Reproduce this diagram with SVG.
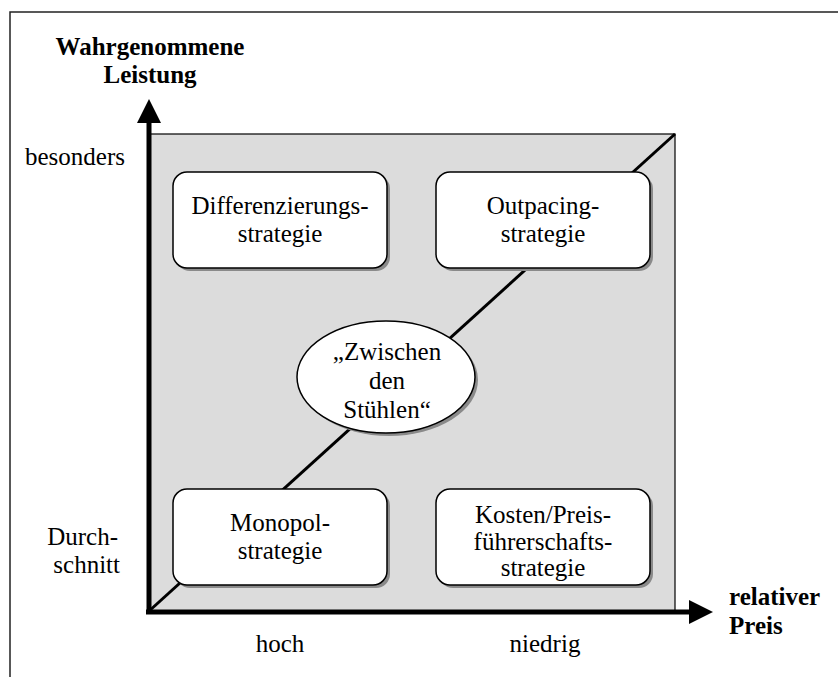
<svg xmlns="http://www.w3.org/2000/svg" width="838" height="677" viewBox="0 0 838 677">
  <style>
    text { font-family: "Liberation Serif", "Times New Roman", serif; fill: #000; }
    .lbl { font-size: 25px; }
    .ax { font-size: 25px; font-weight: bold; }
    .node { font-size: 25px; text-anchor: middle; }
    .box { fill: #fff; stroke: #000; stroke-width: 1.5; }
    .shadow { fill: #8a8a8a; }
  </style>
  <defs>
    <marker id="arrow" viewBox="0 0 24 24" refX="0" refY="12" markerWidth="24" markerHeight="24" markerUnits="userSpaceOnUse" orient="auto">
      <path d="M0,0 L24,12 L0,24 Z" fill="#000"/>
    </marker>
  </defs>

  <rect x="0" y="0" width="838" height="677" fill="#fff"/>
  <!-- outer frame -->
  <rect x="10" y="12" width="840" height="700" fill="none" stroke="#222" stroke-width="1.5"/>

  <!-- strategy field -->
  <rect id="field" x="148" y="134" width="527" height="478" fill="#dcdcdc" stroke="#000" stroke-width="1.2"/>

  <g id="connectors">
    <line x1="148" y1="612" x2="675" y2="134" stroke="#000" stroke-width="3"/>
    <line x1="149" y1="614" x2="149" y2="123" stroke="#000" stroke-width="5" marker-end="url(#arrow)"/>
    <line x1="146" y1="612" x2="689" y2="612" stroke="#000" stroke-width="5" marker-end="url(#arrow)"/>
  </g>

  <g id="differenzierung">
    <rect class="shadow" x="176" y="175" width="214" height="96" rx="14"/>
    <rect class="box" x="173" y="172" width="214" height="96" rx="14"/>
    <text class="node" x="280" y="214">Differenzierungs-</text>
    <text class="node" x="280" y="242">strategie</text>
  </g>

  <g id="outpacing">
    <rect class="shadow" x="439" y="175" width="214" height="96" rx="14"/>
    <rect class="box" x="436" y="172" width="214" height="96" rx="14"/>
    <text class="node" x="543" y="214">Outpacing-</text>
    <text class="node" x="543" y="242">strategie</text>
  </g>

  <g id="zwischen">
    <ellipse class="shadow" cx="389" cy="380" rx="89" ry="56"/>
    <ellipse class="box" cx="386" cy="377" rx="89" ry="56"/>
    <text class="node" x="387" y="360">„Zwischen</text>
    <text class="node" x="387" y="389">den</text>
    <text class="node" x="387" y="418">Stühlen“</text>
  </g>

  <g id="monopol">
    <rect class="shadow" x="176" y="492" width="214" height="96" rx="14"/>
    <rect class="box" x="173" y="489" width="214" height="96" rx="14"/>
    <text class="node" x="280" y="531">Monopol-</text>
    <text class="node" x="280" y="559">strategie</text>
  </g>

  <g id="kosten">
    <rect class="shadow" x="439" y="492" width="214" height="96" rx="14"/>
    <rect class="box" x="436" y="489" width="214" height="96" rx="14"/>
    <text class="node" x="543" y="523">Kosten/Preis-</text>
    <text class="node" x="543" y="550">führerschafts-</text>
    <text class="node" x="543" y="576">strategie</text>
  </g>

  <!-- axis titles and scale labels -->
  <text class="ax" x="150" y="55" text-anchor="middle">Wahrgenommene</text>
  <text class="ax" x="150" y="83" text-anchor="middle">Leistung</text>
  <text class="lbl" x="25" y="165">besonders</text>
  <text class="lbl" x="118" y="545" text-anchor="end">Durch-</text>
  <text class="lbl" x="120" y="573" text-anchor="end">schnitt</text>
  <text class="lbl" x="280" y="652" text-anchor="middle">hoch</text>
  <text class="lbl" x="545" y="652" text-anchor="middle">niedrig</text>
  <text class="ax" x="729" y="605">relativer</text>
  <text class="ax" x="729" y="634">Preis</text>
</svg>
